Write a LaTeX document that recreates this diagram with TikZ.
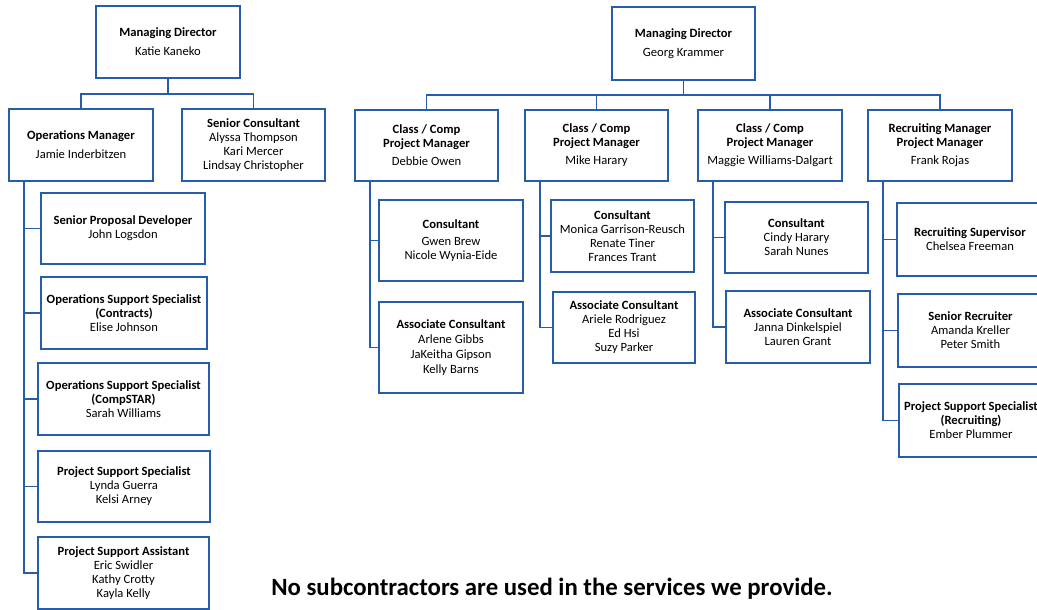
\documentclass[tikz,border=0pt]{standalone}
\usepackage{fontspec}
\setmainfont{Carlito}
\usetikzlibrary{positioning}
\definecolor{orgblue}{RGB}{38,92,172}

\begin{document}
\begin{tikzpicture}[x=1pt, y=-1pt,% one unit = one pixel of the chart
     box/.style = {draw=orgblue, line width=1.4pt, fill=white,
                   align=center, inner sep=0pt, outer sep=0pt,
                   font=\fontsize{12.6}{14}\selectfont},
 boxsize/.style 2 args = {minimum width=#1, minimum height=#2},
    link/.style = {draw=orgblue, line width=1.2pt}
                    ]
	\clip (0,0) rectangle (1037,610);
	\fill[white] (0,0) rectangle (1037,610);

	% first chart
	\node[box, boxsize={144}{72}] (mdk) at (168,42)
	     {\textbf{Managing Director}\\[5pt] Katie Kaneko};
	\node[box, boxsize={144}{72}] (opm) at (81,145)
	     {\textbf{Operations Manager}\\[5pt] Jamie Inderbitzen};
	\node[box, boxsize={143}{72}] (snc) at (253.5,145)
	     {\textbf{Senior Consultant}\\ Alyssa Thompson\\ Kari Mercer\\ Lindsay Christopher};
	\node[box, boxsize={164}{71}] (spd) at (123,228.5)
	     {\textbf{Senior Proposal Developer}\\ John Logsdon};
	\node[box, boxsize={166}{72}] (ossc) at (124,313)
	     {\textbf{Operations Support Specialist}\\ \textbf{(Contracts)}\\ Elise Johnson};
	\node[box, boxsize={171}{72}] (osss) at (123.5,399)
	     {\textbf{Operations Support Specialist}\\ \textbf{(CompSTAR)}\\ Sarah Williams};
	\node[box, boxsize={172}{71}] (pss) at (124,486.5)
	     {\textbf{Project Support Specialist}\\ Lynda Guerra\\ Kelsi Arney};
	\node[box, boxsize={171}{72}] (psa) at (123.5,573)
	     {\textbf{Project Support Assistant}\\ Eric Swidler\\ Kathy Crotty\\ Kayla Kelly};

	\foreach \c in {opm,snc}
		\draw[link] (mdk.south) -- ++(0,16) -| (\c.north);
	\foreach \c in {spd,ossc,osss,pss,psa}
		\draw[link] ([xshift=15pt]opm.south west) |- (\c.west);

	% second chart
	\node[box, boxsize={143}{73}] (mdg) at (683.5,43.5)
	     {\textbf{Managing Director}\\[5pt] Georg Krammer};
	\node[box, boxsize={143}{71}] (pmd) at (426.5,145.5)
	     {\textbf{Class / Comp}\\ \textbf{Project Manager}\\[4pt] Debbie Owen};
	\node[box, boxsize={143}{71}] (pmm) at (596.5,145.5)
	     {\textbf{Class / Comp}\\ \textbf{Project Manager}\\[4pt] Mike Harary};
	\node[box, boxsize={144}{71}] (pmw) at (770,145.5)
	     {\textbf{Class / Comp}\\ \textbf{Project Manager}\\[4pt] Maggie Williams-Dalgart};
	\node[box, boxsize={144}{71}] (rcm) at (940,145.5)
	     {\textbf{Recruiting Manager}\\ \textbf{Project Manager}\\[4pt] Frank Rojas};

	\node[box, boxsize={144}{81}] (cond) at (451,240.5)
	     {\textbf{Consultant}\\[3pt] Gwen Brew\\ Nicole Wynia-Eide};
	\node[box, boxsize={144}{91}] (ascd) at (451,347.5)
	     {\textbf{Associate Consultant}\\[1pt] Arlene Gibbs\\[1pt] JaKeitha Gipson\\[1pt] Kelly Barns};
	\node[box, boxsize={143}{72}] (conm) at (622.5,236)
	     {\textbf{Consultant}\\ Monica Garrison-Reusch\\ Renate Tiner\\ Frances Trant};
	\node[box, boxsize={142}{71}] (ascm) at (624,327.5)
	     {\textbf{Associate Consultant}\\ Ariele Rodriguez\\ Ed Hsi\\ Suzy Parker};
	\node[box, boxsize={143}{71}] (conw) at (796.5,237.5)
	     {\textbf{Consultant}\\ Cindy Harary\\ Sarah Nunes};
	\node[box, boxsize={144}{72}] (ascw) at (798,327)
	     {\textbf{Associate Consultant}\\ Janna Dinkelspiel\\ Lauren Grant};
	\node[box, boxsize={146}{73}] (rsv) at (970,239.5)
	     {\textbf{Recruiting Supervisor}\\ Chelsea Freeman};
	\node[box, boxsize={145}{73}] (srr) at (970.5,330.5)
	     {\textbf{Senior Recruiter}\\ Amanda Kreller\\ Peter Smith};
	\node[box, boxsize={144}{73}] (psr) at (971,420.5)
	     {\textbf{Project Support Specialist}\\ \textbf{(Recruiting)}\\ Ember Plummer};

	\foreach \c in {pmd,pmm,pmw,rcm}
		\draw[link] (mdg.south) -- ++(0,15) -| (\c.north);
	\foreach \c in {cond,ascd}
		\draw[link] ([xshift=15pt]pmd.south west) |- (\c.west);
	\foreach \c in {conm,ascm}
		\draw[link] ([xshift=15pt]pmm.south west) |- (\c.west);
	\foreach \c in {conw,ascw}
		\draw[link] ([xshift=15pt]pmw.south west) |- (\c.west);
	\foreach \c in {rsv,srr,psr}
		\draw[link] ([xshift=15pt]rcm.south west) |- (\c.west);

	\node[font=\fontsize{24.8}{28}\selectfont\bfseries] (note) at (552,589)
	     {No subcontractors are used in the services we provide.};
\end{tikzpicture}
\end{document}
